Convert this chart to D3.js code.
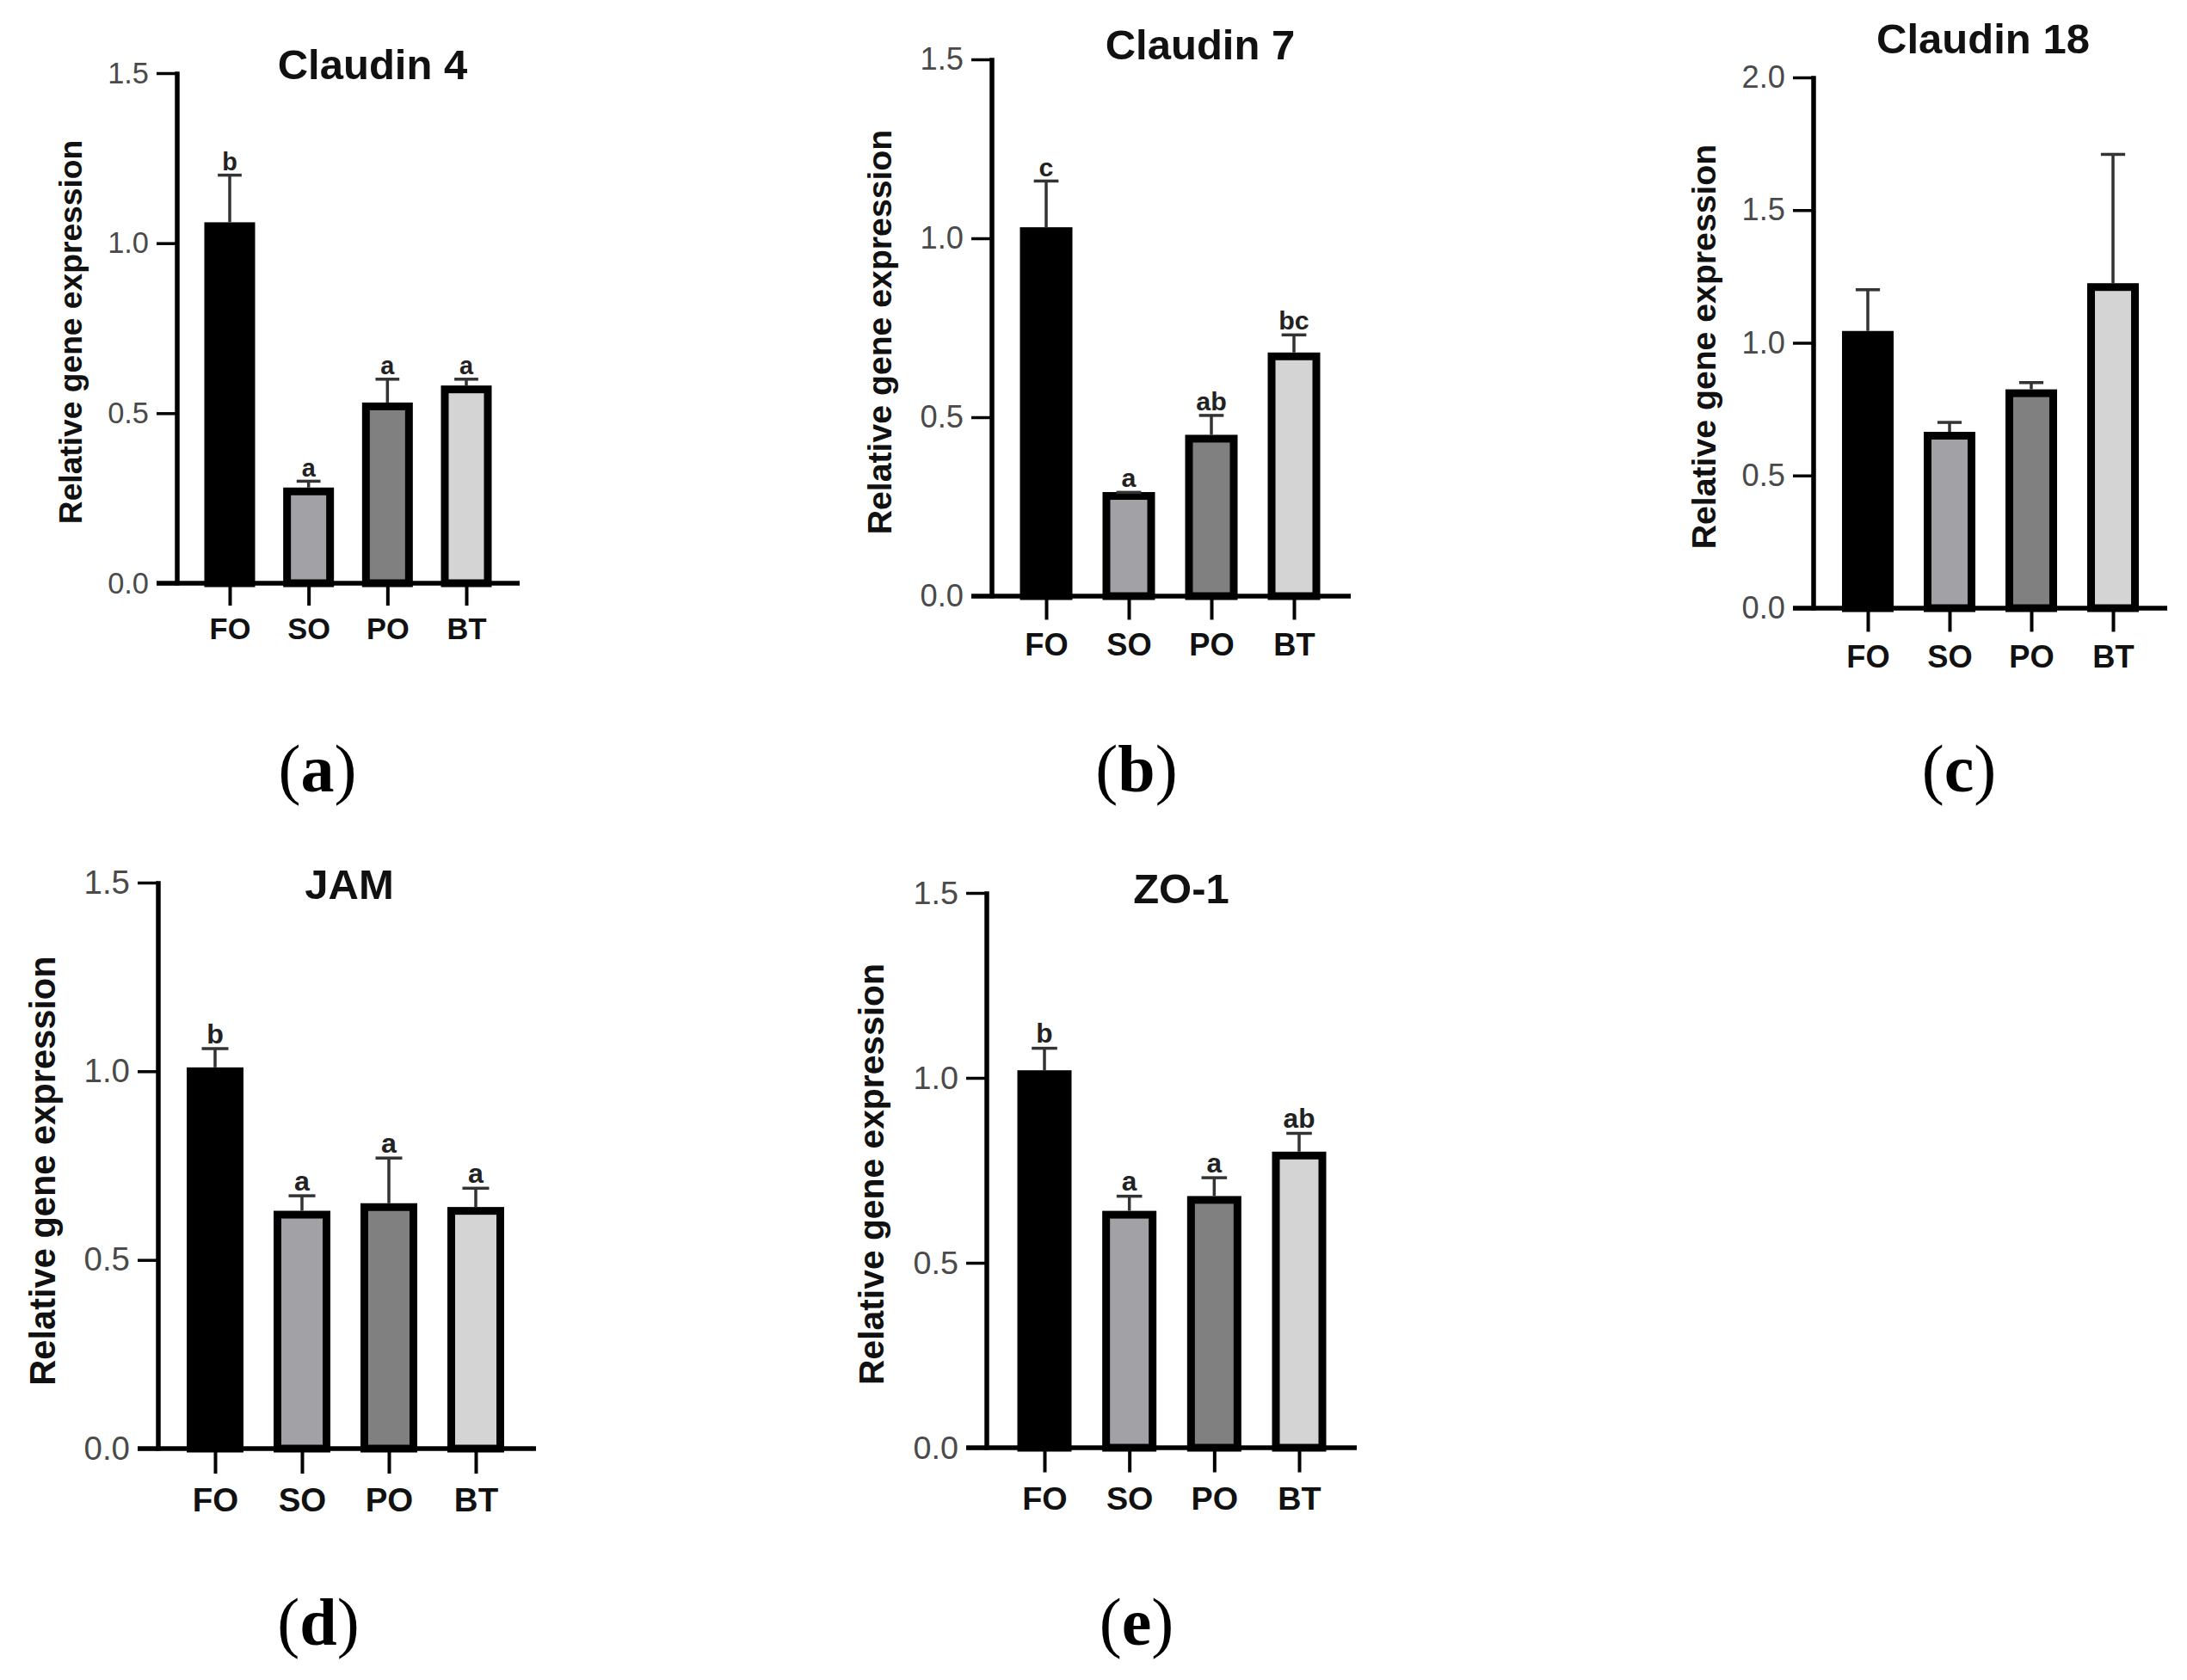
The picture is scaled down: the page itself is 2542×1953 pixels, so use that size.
<!DOCTYPE html>
<meta charset="utf-8">
<style>
body { margin: 0; background: #fff; }
svg { display: block; }
.tick text { font-family: "Liberation Sans", Arial, sans-serif; }
.ylab, .title, .cat, .sig { font-family: "Liberation Sans", Arial, sans-serif; font-weight: bold; }
.tag { font-family: "Liberation Serif", "Times New Roman", serif; }
</style>
<body>
<script src="https://cdn.jsdelivr.net/npm/d3@7"></script>
<script>

// groups on the x axis
var categories = ["FO", "SO", "PO", "BT"];

// one entry per panel
var titles = ["Claudin 4", "Claudin 7", "Claudin 18", "JAM", "ZO-1"];
var panelTags = ["a", "b", "c", "d", "e"];
var yMax = [1.5, 1.5, 2.0, 1.5, 1.5];

// y tick labels
var ticks15 = [0, 0.5, 1.0, 1.5];
var ticks20 = [0, 0.5, 1.0, 1.5, 2.0];

// means, error (upper) and letters
var claudin4Mean = [1.05, 0.27, 0.52, 0.57];
var claudin4Err = [0.15, 0.03, 0.08, 0.03];
var claudin4Sig = ["b", "a", "a", "a"];

var claudin7Mean = [1.02, 0.28, 0.44, 0.67];
var claudin7Err = [0.14, 0.01, 0.065, 0.06];
var claudin7Sig = ["c", "a", "ab", "bc"];

var claudin18Mean = [1.03, 0.65, 0.81, 1.21];
var claudin18Err = [0.17, 0.05, 0.04, 0.50];
var claudin18Sig = ["", "", "", ""];

var jamMean = [1.00, 0.62, 0.64, 0.63];
var jamErr = [0.06, 0.05, 0.13, 0.06];
var jamSig = ["b", "a", "a", "a"];

var zo1Mean = [1.01, 0.63, 0.67, 0.79];
var zo1Err = [0.07, 0.05, 0.06, 0.06];
var zo1Sig = ["b", "a", "a", "ab"];

var fills = ["#000000", "#a2a2a6", "#808080", "#d4d4d4"];

// where each panel sits on the page (pixels)
var layout = [
  {axisX: 206,  y0: 678,  yTop: 85,   xEnd: 604,  padL: 61, padR: 62, barW: 59, titleX: 433,  titleY: 92,   labX: 82,   labY: 386,  s: 0.93, tagX: 369,  tagY: 920},
  {axisX: 1153, y0: 693,  yTop: 69,   xEnd: 1570, padL: 63, padR: 66, barW: 61, titleX: 1395, titleY: 69,   labX: 1022, labY: 386,  s: 0.98, tagX: 1321, tagY: 920},
  {axisX: 2108, y0: 707,  yTop: 90,   xEnd: 2519, padL: 63, padR: 63, barW: 60, titleX: 2305, titleY: 62,   labX: 1980, labY: 403,  s: 0.98, tagX: 2277, tagY: 920},
  {axisX: 184,  y0: 1684, yTop: 1026, xEnd: 623,  padL: 66, padR: 70, barW: 66, titleX: 406,  titleY: 1045, labX: 49,   labY: 1361, s: 1.04, tagX: 370,  tagY: 1912},
  {axisX: 1147, y0: 1683, yTop: 1038, xEnd: 1577, padL: 67, padR: 67, barW: 63, titleX: 1373, titleY: 1050, labX: 1012, labY: 1365, s: 1.02, tagX: 1321, tagY: 1912}
];

var means = [claudin4Mean, claudin7Mean, claudin18Mean, jamMean, zo1Mean];
var errs = [claudin4Err, claudin7Err, claudin18Err, jamErr, zo1Err];
var sigs = [claudin4Sig, claudin7Sig, claudin18Sig, jamSig, zo1Sig];
var tickSets = [ticks15, ticks15, ticks20, ticks15, ticks15];

var svg = d3.select("body").append("svg")
    .attr("width", 2542)
    .attr("height", 1953);

svg.append("rect").attr("width", 2542).attr("height", 1953).attr("fill", "#fff");

layout.forEach(function(L, p) {
  var s = L.s;
  var g = svg.append("g");

  var y = d3.scaleLinear().domain([0, yMax[p]]).range([L.y0, L.yTop]);
  var x = d3.scalePoint().domain(categories).range([L.axisX + L.padL, L.xEnd - L.padR]);

  var rows = categories.map(function(c, i) {
    return {cat: c, mean: means[p][i], err: errs[p][i], sig: sigs[p][i], fill: fills[i]};
  });

  // bars
  var sw = 9;
  g.selectAll("rect.bar").data(rows).enter().append("rect")
      .attr("class", "bar")
      .attr("x", function(d) { return x(d.cat) - L.barW / 2 + sw / 2; })
      .attr("width", L.barW - sw)
      .attr("y", function(d) { return y(d.mean); })
      .attr("height", function(d) { return y(0) - y(d.mean); })
      .attr("fill", function(d) { return d.fill; })
      .attr("stroke", "#000")
      .attr("stroke-width", sw);

  // error bars (upper only)
  var capW = L.barW * 0.47;
  var eb = g.selectAll("g.err").data(rows).enter().append("g").attr("class", "err")
      .attr("stroke", "#333").attr("stroke-width", 3.5);
  eb.append("line")
      .attr("x1", function(d) { return x(d.cat); })
      .attr("x2", function(d) { return x(d.cat); })
      .attr("y1", function(d) { return y(d.mean) - sw / 2; })
      .attr("y2", function(d) { return y(d.mean + d.err); });
  eb.append("line")
      .attr("x1", function(d) { return x(d.cat) - capW / 2; })
      .attr("x2", function(d) { return x(d.cat) + capW / 2; })
      .attr("y1", function(d) { return y(d.mean + d.err); })
      .attr("y2", function(d) { return y(d.mean + d.err); });

  // significance letters
  g.selectAll("text.sig").data(rows).enter().append("text")
      .attr("class", "sig")
      .attr("x", function(d) { return x(d.cat); })
      .attr("y", function(d) { return y(d.mean + d.err) - 6 * s; })
      .attr("text-anchor", "middle")
      .attr("font-size", 31 * s)
      .attr("fill", "#222")
      .text(function(d) { return d.sig; });

  // y axis
  var ya = g.append("g")
      .attr("transform", "translate(" + L.axisX + ",0)")
      .call(d3.axisLeft(y).tickValues(tickSets[p]).tickFormat(d3.format(".1f"))
        .tickSize(24).tickSizeOuter(0).tickPadding(9));
  ya.select(".domain").attr("stroke", "#000").attr("stroke-width", 5.5)
      .attr("d", "M0," + (L.y0 + 2.5) + "V" + (L.yTop - 1.7));
  ya.selectAll(".tick line").attr("stroke", "#000").attr("stroke-width", 3.5);
  ya.selectAll(".tick text").attr("font-size", 37 * s).attr("fill", "#4a4a4a");

  // x axis
  var xa = g.append("g")
      .attr("transform", "translate(0," + y(0) + ")")
      .call(d3.axisBottom(x).tickSize(28 * s).tickSizeOuter(0).tickPadding(16 * s));
  xa.select(".domain").remove();
  xa.append("line")
      .attr("x1", L.axisX - 24).attr("x2", L.xEnd)
      .attr("stroke", "#000").attr("stroke-width", 5.5);
  xa.selectAll(".tick line").attr("stroke", "#000").attr("stroke-width", 4);
  xa.selectAll(".tick text").attr("class", "cat").attr("font-size", 37 * s).attr("fill", "#111");

  // title
  g.append("text")
      .attr("class", "title")
      .attr("x", L.titleX).attr("y", L.titleY)
      .attr("text-anchor", "middle")
      .attr("font-size", 49)
      .attr("fill", "#111")
      .text(titles[p]);

  // y label
  g.append("text")
      .attr("class", "ylab")
      .attr("transform", "translate(" + L.labX + "," + L.labY + ") rotate(-90)")
      .attr("text-anchor", "middle")
      .attr("dy", "0.36em")
      .attr("font-size", 40 * s)
      .attr("fill", "#111")
      .text("Relative gene expression");

  // panel tag
  var t = svg.append("text")
      .attr("class", "tag")
      .attr("x", L.tagX).attr("y", L.tagY)
      .attr("text-anchor", "middle")
      .attr("font-size", 78);
  t.append("tspan").text("(");
  t.append("tspan").attr("font-weight", "bold").text(panelTags[p]);
  t.append("tspan").text(")");
});

</script>
